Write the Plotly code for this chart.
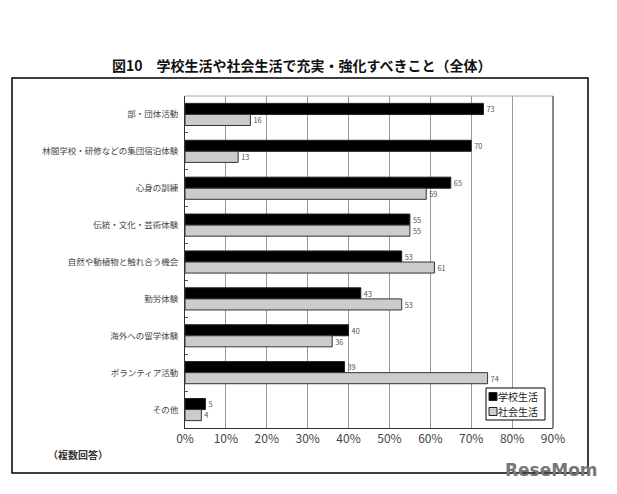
import plotly.graph_objects as go

categories = ["部・団体活動", "林間学校・研修などの集団宿泊体験", "心身の訓練", "伝統・文化・芸術体験",
              "自然や動植物と触れ合う機会", "勤労体験", "海外への留学体験", "ボランティア活動", "その他"]
school = [73, 70, 65, 55, 53, 43, 40, 39, 5]
society = [16, 13, 59, 55, 61, 53, 36, 74, 4]
series_names = ["学校生活", "社会生活"]
series_colors = ["#000000", "#cccccc"]
x_ticks = [0, 10, 20, 30, 40, 50, 60, 70, 80, 90]
x_ticklabels = [f"{v}%" for v in x_ticks]

FONT = "Noto Sans CJK JP"
W, H = 617, 494
L, R, T, B = 185, 64, 96, 66
pw, ph = W - L - R, H - T - B

def px(x):
    return (x - L) / pw

def py(y):
    return (H - B - y) / ph

fig = go.Figure()
for name, vals, col, lc in [(series_names[0], school, series_colors[0], "#222222"),
                            (series_names[1], society, series_colors[1], "#333333")]:
    fig.add_trace(go.Bar(
        y=categories, x=vals, name=name, orientation="h",
        marker=dict(color=col, line=dict(color=lc, width=1)),
        text=vals, textposition="outside", cliponaxis=False,
        textfont=dict(size=10, color="#555555", family=FONT),
    ))

fig.update_layout(
    width=W, height=H,
    margin=dict(l=L, r=R, t=T, b=B),
    paper_bgcolor="white", plot_bgcolor="white",
    barmode="group", bargap=0.4, bargroupgap=0,
    font=dict(family=FONT, color="#333333"),
    showlegend=False,
    xaxis=dict(range=[0, 90], tickvals=x_ticks, ticktext=x_ticklabels,
               showgrid=True, gridcolor="#999999", gridwidth=1,
               showline=True, linecolor="#333333", linewidth=1,
               ticks="", tickfont=dict(size=12, color="#444444", family=FONT),
               zeroline=False, fixedrange=True),
    yaxis=dict(autorange="reversed", showline=True, linecolor="#333333", linewidth=1,
               ticks="inside", ticklen=3, tickcolor="#555555", tickson="boundaries",
               tickfont=dict(size=8.5, color="#444444", family=FONT),
               ticklabelstandoff=4, fixedrange=True),
)

# plot-area top and right borders
fig.add_shape(type="line", xref="paper", yref="paper", x0=0, x1=1, y0=1, y1=1,
              line=dict(color="#aaaaaa", width=1))
fig.add_shape(type="line", xref="paper", yref="paper", x0=1, x1=1, y0=0, y1=1,
              line=dict(color="#888888", width=2))
# outer frame
fig.add_shape(type="rect", xref="paper", yref="paper",
              x0=px(12), x1=px(588), y0=py(473), y1=py(78),
              line=dict(color="#000000", width=1.5), layer="below")

# legend box (drawn manually to match compact original legend)
fig.add_shape(type="rect", xref="paper", yref="paper",
              x0=px(486), x1=px(545), y0=py(420), y1=py(388),
              line=dict(color="#000000", width=1), fillcolor="white")
for i, (name, col) in enumerate(zip(series_names, series_colors)):
    yc = 396.5 + i * 15
    fig.add_shape(type="rect", xref="paper", yref="paper",
                  x0=px(489), x1=px(497), y0=py(yc + 4), y1=py(yc - 4),
                  line=dict(color="#222222", width=1), fillcolor=col)
    fig.add_annotation(text=name, xref="paper", yref="paper", x=px(497), y=py(yc),
                       xanchor="left", yanchor="middle", showarrow=False,
                       borderpad=0,
                       font=dict(size=10, color="#222222", family=FONT))

fig.add_annotation(text="<b>図10　学校生活や社会生活で充実・強化すべきこと（全体）</b>",
                   xref="paper", yref="paper", x=px(302), y=py(65),
                   xanchor="center", yanchor="middle", showarrow=False,
                   font=dict(size=14, color="#111111", family=FONT))
fig.add_annotation(text="<b>（複数回答）</b>",
                   xref="paper", yref="paper", x=px(46), y=py(455),
                   xanchor="left", yanchor="middle", showarrow=False,
                   font=dict(size=10, color="#333333", family=FONT))
fig.add_annotation(text="<b>ReseMom</b>",
                   xref="paper", yref="paper", x=px(503), y=py(470),
                   xanchor="left", yanchor="middle", showarrow=False,
                   font=dict(size=17, color="#777777", family="DejaVu Sans"))

fig.write_html("out.html")
